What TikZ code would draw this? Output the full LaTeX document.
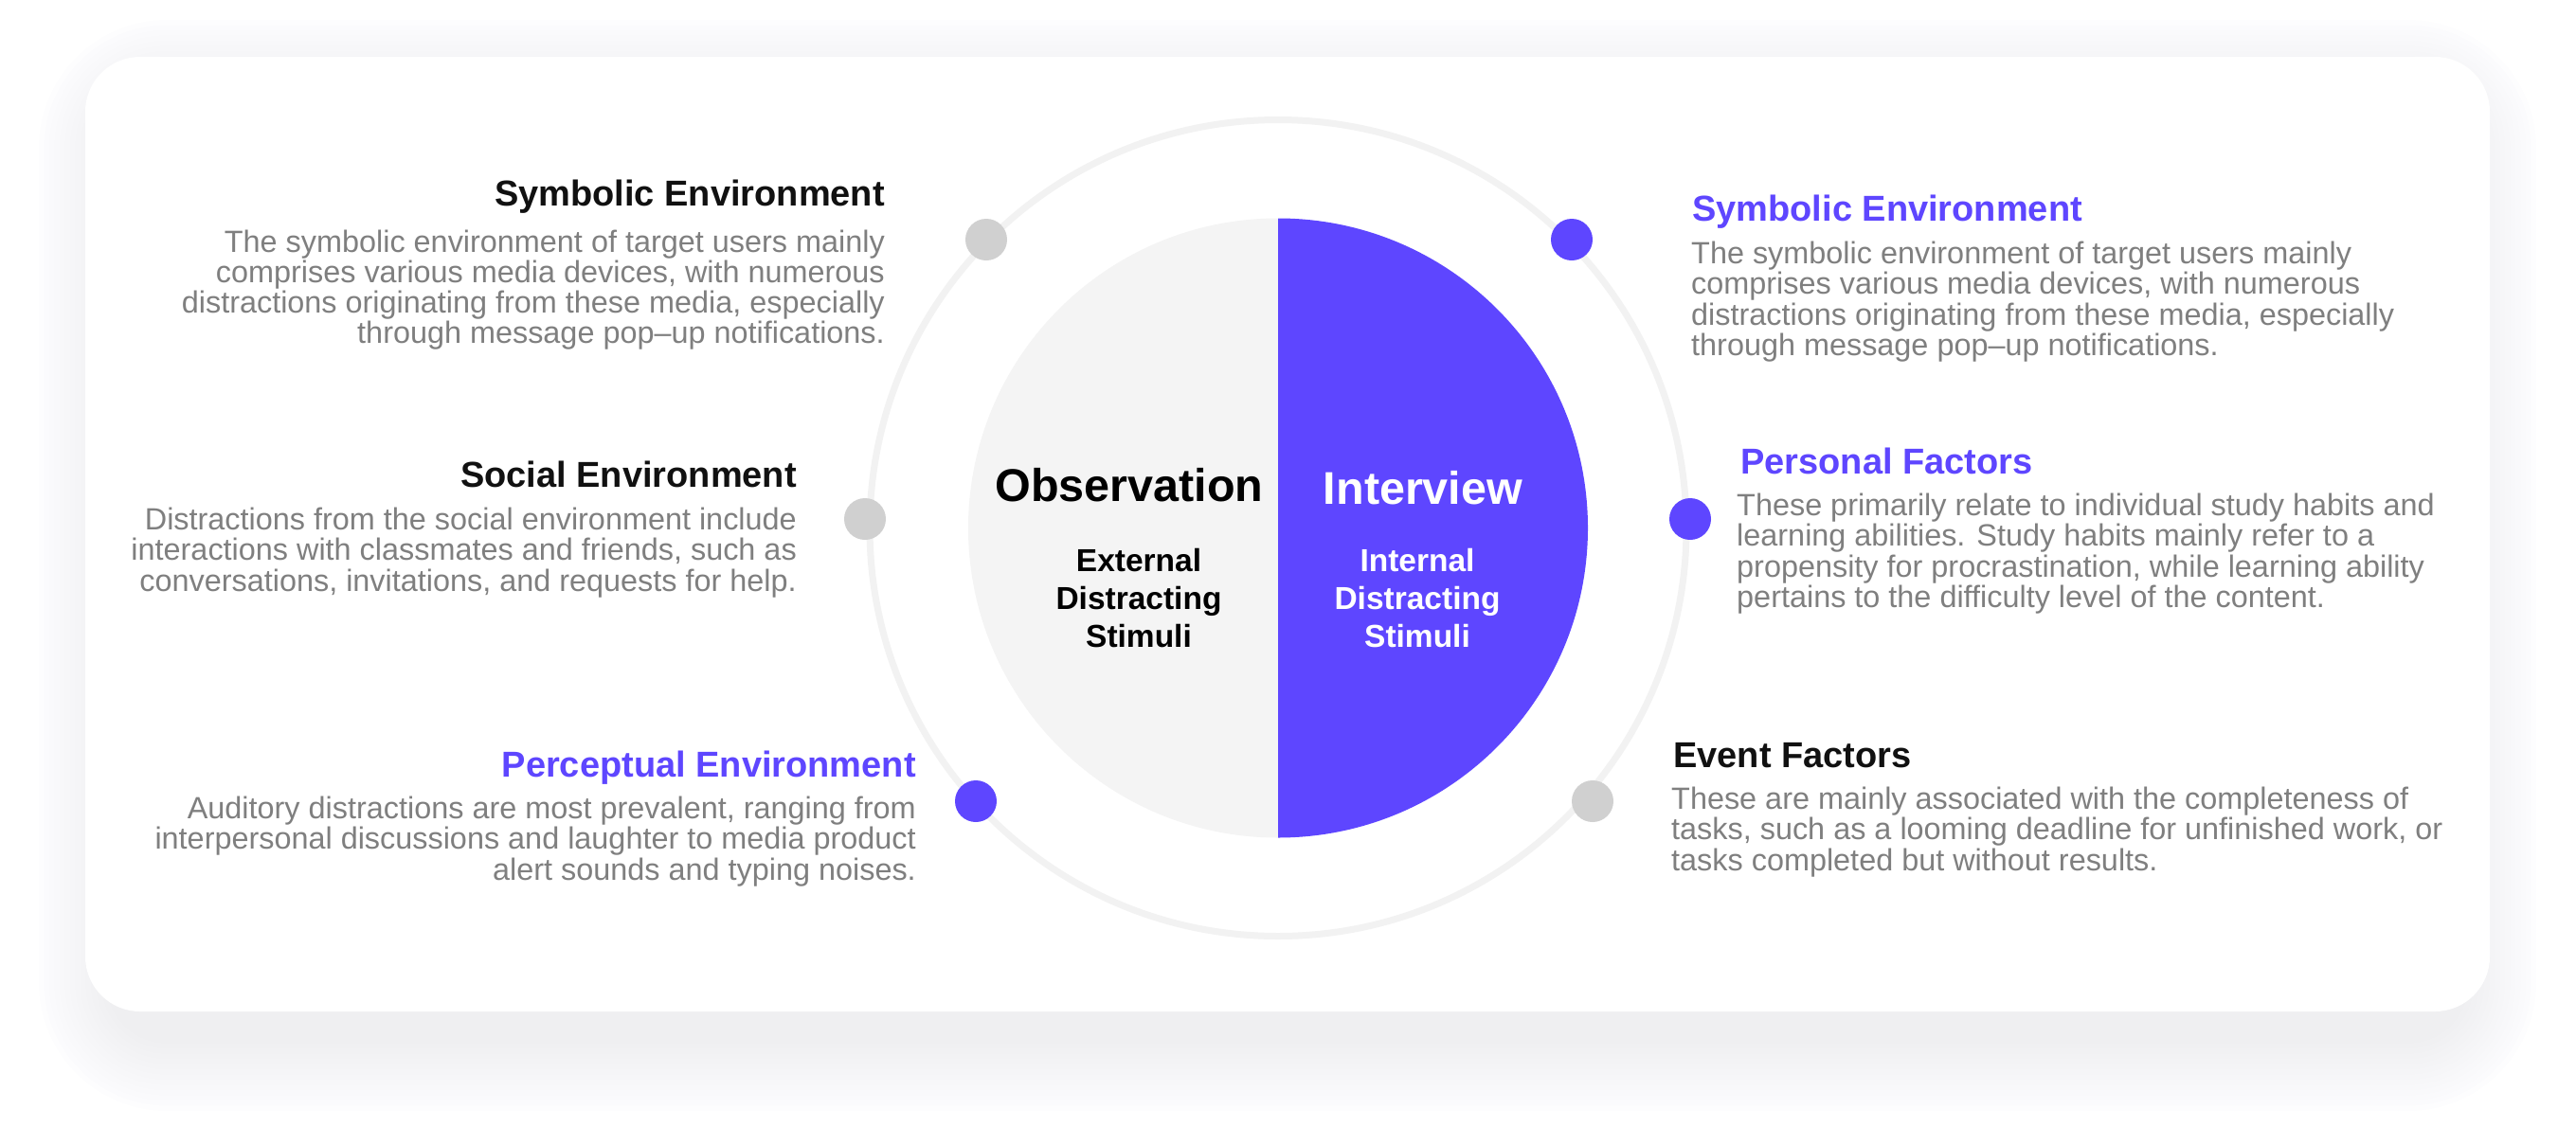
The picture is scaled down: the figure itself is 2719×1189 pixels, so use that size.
\documentclass[tikz,border=0pt]{standalone}
\usepackage{fontspec}
\setmainfont{Liberation Sans}
\definecolor{accent}{HTML}{5E46FF}
\definecolor{bodygray}{HTML}{7F7F7F}
\definecolor{halfgray}{HTML}{F4F4F4}
\definecolor{ringgray}{HTML}{F2F2F2}
\definecolor{dotgray}{HTML}{D0D0D0}
\definecolor{shadowc}{HTML}{7C7CC0}
\definecolor{titleblack}{HTML}{111111}
\begin{document}
\begin{tikzpicture}[x=1pt,y=-1pt,
  body/.style={text=bodygray, font=\fontsize{32.4}{32.4}\selectfont, inner sep=0pt},
  btitle/.style={text=titleblack, font=\bfseries\fontsize{38}{38}\selectfont, inner sep=0pt},
  ptitle/.style={btitle, text=accent},
  ctitle/.style={font=\bfseries\fontsize{48.5}{48.5}\selectfont, inner sep=0pt, anchor=base},
  csub/.style={font=\bfseries\fontsize{33.5}{33.5}\selectfont, inner sep=0pt, anchor=base},
  dot/.style={circle, minimum size=44pt, inner sep=0pt},
  graydot/.style={dot, fill=dotgray},
  accentdot/.style={dot, fill=accent}]

% page and card with soft drop shadow
\fill[white] (0,0) rectangle (2719,1189);
\useasboundingbox (0,0) rectangle (2719,1189);
\foreach \k in {1,...,14}
  \fill[shadowc, opacity=0.006, rounded corners={(58+5.5*\k)*1pt}]
    ({118-5.5*\k},{98-5.5*\k}) rectangle ({2600+5.5*\k},{1096+5.5*\k});
\fill[white, rounded corners=58pt] (90,60) rectangle (2628,1068);

% outer ring and split disc
\coordinate (C) at (1349,557.5);
\draw[ringgray, line width=7pt] (C) circle[radius=431];
\fill[halfgray] (C) ++(0,327) arc[start angle=90, end angle=270, radius=327] -- cycle;
\fill[accent] (C) ++(0,327) arc[start angle=90, end angle=-90, radius=327] -- cycle;

% markers on the ring
\node[graydot]   (dl1) at (1041,253) {};
\node[graydot]   (dl2) at (913,548) {};
\node[accentdot] (dl3) at (1030,846) {};
\node[accentdot] (dr1) at (1659,253) {};
\node[accentdot] (dr2) at (1784,548) {};
\node[graydot]   (dr3) at (1681,846) {};

% centre labels
\node[ctitle, text=black] (obs) at (1192,529) {Observation};
\node[ctitle, text=white] (intv) at (1502,532) {Interview};
\foreach \t [count=\i] in {External, Distracting, Stimuli}
  \node[csub, text=black] (ext-\i) at (1202,{603+40*(\i-1)}) {\t};
\foreach \t [count=\i] in {Internal, Distracting, Stimuli}
  \node[csub, text=white] (int-\i) at (1496,{603+40*(\i-1)}) {\t};

% left column
\node[btitle, anchor=base east] (lt1) at (934,217) {Symbolic Environment};
\foreach \t [count=\i] in {{The symbolic environment of target users mainly},
    {comprises various media devices, with numerous},
    {distractions originating from these media, especially},
    {through message pop–up notifications.}}
  \node[body, anchor=base east] (lb1-\i) at (934,{266+32*(\i-1)}) {\t};

\node[btitle, anchor=base east] (lt2) at (841,514) {Social Environment};
\foreach \t [count=\i] in {{Distractions from the social environment include},
    {interactions with classmates and friends, such as},
    {conversations, invitations, and requests for help.}}
  \node[body, anchor=base east] (lb2-\i) at (841,{559+32.5*(\i-1)}) {\t};

\node[ptitle, anchor=base east] (lt3) at (967,820) {Perceptual Environment};
\foreach \t [count=\i] in {{Auditory distractions are most prevalent, ranging from},
    {interpersonal discussions and laughter to media product},
    {alert sounds and typing noises.}}
  \node[body, anchor=base east] (lb3-\i) at (967,{864+32.5*(\i-1)}) {\t};

% right column
\node[ptitle, anchor=base west] (rt1) at (1786,233) {Symbolic Environment};
\foreach \t [count=\i] in {{The symbolic environment of target users mainly},
    {comprises various media devices, with numerous},
    {distractions originating from these media, especially},
    {through message pop–up notifications.}}
  \node[body, anchor=base west] (rb1-\i) at (1785,{278+32.5*(\i-1)}) {\t};

\node[ptitle, anchor=base west] (rt2) at (1837,500) {Personal Factors};
\foreach \t [count=\i] in {{These primarily relate to individual study habits and},
    {learning abilities. Study habits mainly refer to a},
    {propensity for procrastination, while learning ability},
    {pertains to the difficulty level of the content.}}
  \node[body, anchor=base west] (rb2-\i) at (1833,{544+32.5*(\i-1)}) {\t};

\node[btitle, anchor=base west] (rt3) at (1766,810) {Event Factors};
\foreach \t [count=\i] in {{These are mainly associated with the completeness of},
    {tasks, such as a looming deadline for unfinished work, or},
    {tasks completed but without results.}}
  \node[body, anchor=base west] (rb3-\i) at (1764,{854+32.5*(\i-1)}) {\t};
\end{tikzpicture}
\end{document}
